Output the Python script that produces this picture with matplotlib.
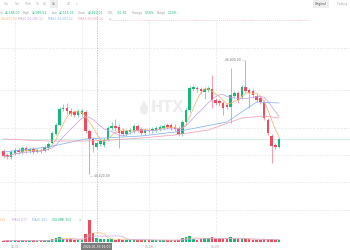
import matplotlib
matplotlib.use("Agg")
import matplotlib.pyplot as plt
from matplotlib.lines import Line2D
from matplotlib.patches import Polygon
import numpy as np
import pandas as pd

plt.rcParams['font.family'] = ['DejaVu Sans']

# ---------------- data ----------------
start_time = "2023-12-30 12:00"
opens = [41886, 41670, 41562, 41778, 41940, 41832, 42048, 41886, 41994, 41832,
         41940, 41886, 42048, 42318, 42804, 43290, 44154, 44208, 44046, 43992,
         43830, 43884, 43992, 42966, 42534, 42102, 42264, 42210, 42480, 43128,
         43236, 43182, 42966, 42804, 42912, 42966, 43236, 43074, 42858, 43020,
         42966, 43020, 43074, 43128, 43290, 43290, 43182, 43128, 42804, 43452,
         44100, 45234, 45288, 45234, 45072, 45180, 45234, 44640, 44586, 44478,
         44370, 44262, 44856, 45018, 44802, 45342, 45180, 45126, 44856, 44748,
         44532, 43560, 42696, 42210, 42102]
highs = [41994, 41778, 41940, 42048, 42048, 42156, 42156, 42102, 42102, 42048,
         42048, 42210, 42372, 42966, 43398, 44262, 44424, 44478, 44208, 44100,
         44154, 44154, 44100, 43074, 42642, 42426, 42534, 42588, 43236, 43452,
         43614, 43344, 43128, 43074, 43128, 43344, 43344, 43182, 43128, 43128,
         43182, 43236, 43290, 43344, 43398, 43398, 43344, 43236, 43560, 44208,
         45396, 45450, 45396, 45342, 45342, 45396, 45990, 44748, 44694, 44586,
         44478, 46368, 45126, 45126, 45450, 46800, 45288, 45234, 44964, 44856,
         44640, 43668, 42804, 42318, 42642]
lows = [41508, 41454, 41454, 41670, 41724, 41724, 41778, 41778, 41724, 41778,
        41778, 41832, 41940, 42264, 42750, 43236, 44046, 43884, 43776, 43722,
        43722, 43776, 42858, 40620, 41832, 41994, 42156, 42102, 42426, 43020,
        42966, 42048, 42696, 42696, 42804, 42858, 42912, 42750, 42750, 42858,
        42858, 42912, 42966, 43020, 43074, 43020, 42966, 42696, 42696, 43344,
        43992, 45126, 45072, 44964, 44694, 45072, 44208, 44370, 44316, 43830,
        44154, 43398, 44748, 44478, 44694, 45018, 44208, 44748, 44532, 44424,
        43560, 42750, 41238, 41994, 42048]
closes = [41616, 41562, 41832, 41940, 41832, 42048, 41886, 41994, 41832, 41940,
          41886, 42102, 42264, 42858, 43290, 44154, 44208, 44046, 43884, 43830,
          44046, 44046, 42966, 42534, 42210, 42318, 42426, 42480, 43128, 43236,
          43128, 42858, 42804, 42966, 43020, 43236, 43020, 42858, 43020, 42966,
          43074, 43128, 43182, 43236, 43182, 43128, 43074, 42804, 43452, 44100,
          45288, 45342, 45234, 45126, 45234, 45288, 44640, 44478, 44478, 44208,
          44262, 44910, 45018, 44640, 45342, 45126, 45018, 44910, 44640, 44532,
          43668, 42858, 42156, 42102, 42534]
volumes = [220, 260, 200, 240, 180, 260, 210, 190, 230, 200,
           250, 280, 320, 500, 600, 800, 400, 450, 400, 350,
           300, 320, 1250, 3300, 1400, 600, 400, 450, 500, 400,
           350, 450, 300, 300, 280, 350, 300, 320, 280, 260,
           300, 280, 250, 300, 260, 280, 300, 350, 600, 800,
           850, 400, 350, 500, 600, 550, 700, 400, 450, 500,
           400, 700, 500, 400, 450, 500, 400, 350, 300, 280,
           400, 450, 500, 300, 352]
ma30_idx = [0, 12, 22, 27, 37, 46, 60, 68, 74]
ma30_val = [41832, 42102, 42534, 42588, 42696, 42912, 43452, 44532, 44478]
ma60_idx = [0, 12, 22, 29, 37, 46, 55, 64, 70, 74]
ma60_val = [42534, 42426, 42426, 42480, 42588, 42750, 43020, 43668, 43776, 43668]
tick_labels = ["12-31", "01-03", "01-06", "01-09"]
crosshair_time = "2024-01-03 16:00"
high_label = "46,800.00"
low_label = "40,620.00"

info_row = [("Open", "42,588.00"), ("High", "42,983.62"), ("Low", "42,515.25"),
            ("Close", "42,820.01"), ("VOL", "351.81"), ("Change", "0.56%"),
            ("Range", "1.10%")]
ma_row = ["MA5 42,427.00", "MA10 44,296.12", "MA30 43,303.12", "MA60 43,260.14"]
vol_row = ["MA5 514", "MA10 877", "MA20 401", "VOLUME 352"]
periods = ["1m", "5m", "15m", "1h", "2h", "4h", "1D", "\u2228"]

# ---------------- style ----------------
W, H = 350, 250
GREEN = "#16b979"
RED = "#f04a5e"
C_MA5 = "#f5b66e"
C_MA10 = "#c7a2e8"
C_MA30 = "#86b4f0"
C_MA60 = "#f2a0b8"
GREY = "#9a9a9a"
GRID = "#e4e4e4"

fig = plt.figure(figsize=(3.5, 2.5), dpi=100)
fig.patch.set_facecolor("white")


def fy(y):
    return 1 - y / H


def fx(x):
    return x / W


def text(x, y, s, color, size=2.2, ha="left", **kw):
    fig.text(fx(x), fy(y), s, color=color, fontsize=size, ha=ha, va="center", **kw)


n = len(closes)
idx = np.arange(n)
dates = pd.date_range(start_time, periods=n, freq="4h")

# main price axes
x0 = -3.7 / 3.72
x1 = (W - 3.7) / 3.72
ax = fig.add_axes([0, fy(215), 1, (215 - 20) / H])
ax.set_xlim(x0, x1)
ax.set_ylim(50040 - 54 * 215, 50040 - 54 * 20)
ax.axis("off")

vax = fig.add_axes([0, fy(243), 1, 30 / H])
vax.set_xlim(x0, x1)
vax.set_ylim(-150, 4350)
for s in vax.spines.values():
    s.set_visible(False)
vax.set_yticks([])

# horizontal grid (figure level)
for gy in [48, 90, 128, 155, 182, 210]:
    fig.add_artist(Line2D([0, 1], [fy(gy), fy(gy)], color=GRID, lw=0.5,
                          ls=(0, (3, 2)), zorder=0))
fig.add_artist(Line2D([fx(110), fx(310)], [fy(20), fy(20)], color="#f5b8c4",
                      lw=0.5, ls=(0, (1.5, 1.5)), zorder=0))

# vertical grid at day ticks
day_str = dates.strftime("%m-%d %H:%M")
tick_idx = [int(np.where(day_str == lab + " 00:00")[0][0]) for lab in tick_labels]
for ti in tick_idx:
    ax.axvline(ti, color=GRID, lw=0.5, ls=(0, (3, 2)), zorder=0)
    vax.axvline(ti, color=GRID, lw=0.5, ls=(0, (3, 2)), zorder=0)

# last price line
ax.axhline(closes[-1], color="#bfe9d6", lw=0.5, zorder=1)

# watermark
text(151, 108, "HTX", "#ededed", size=10.5, weight="bold", zorder=0)
flame = Polygon([[fx(144), fy(101)], [fx(148), fy(107)], [fx(147.5), fy(113)],
                 [fx(144), fy(115)], [fx(140.5), fy(113)], [fx(140), fy(107)]],
                closed=True, transform=fig.transFigure, facecolor="#ededed",
                edgecolor="none", zorder=0)
fig.add_artist(flame)

# candles
o = np.array(opens, float)
c = np.array(closes, float)
hi = np.array(highs, float)
lo = np.array(lows, float)
up = c >= o
cols = np.where(up, GREEN, RED)
ax.vlines(idx, lo, hi, colors=cols, lw=0.5, alpha=0.75, zorder=3)
body_h = np.maximum(np.abs(c - o), 45)
ax.bar(idx, body_h, bottom=np.minimum(o, c), width=0.68, color=cols, zorder=4,
       linewidth=0)

# moving averages
cs = pd.Series(c)
ax.plot(idx, cs.rolling(5, min_periods=1).mean(), color=C_MA5, lw=0.55, zorder=5)
ax.plot(idx, cs.rolling(10, min_periods=1).mean(), color=C_MA10, lw=0.55, zorder=5)
ax.plot(ma30_idx, ma30_val, color=C_MA30, lw=0.55, zorder=5)
ax.plot(ma60_idx, ma60_val, color=C_MA60, lw=0.55, zorder=5)

# high / low markers
i_hi = int(np.argmax(hi))
i_lo = int(np.argmin(lo))
ax.annotate(high_label + " \u2014", (i_hi, hi[i_hi]), xytext=(-0.5, 0),
            textcoords="offset points", ha="right", va="center",
            fontsize=2.2, color="#777777")
ax.annotate("\u2014 " + low_label, (i_lo, lo[i_lo]), xytext=(0.5, -1),
            textcoords="offset points", ha="left", va="center",
            fontsize=2.2, color="#777777")

# volume
v = np.array(volumes, float)
vax.bar(idx, v, width=0.68, color=cols, linewidth=0, zorder=3)
vs = pd.Series(v)
vax.plot(idx, vs.rolling(5, min_periods=1).mean(), color=C_MA5, lw=0.45, zorder=4)
vax.plot(idx, vs.rolling(10, min_periods=1).mean(), color=C_MA10, lw=0.45, zorder=4)

# crosshair
ci = int(np.where(dates == pd.Timestamp(crosshair_time))[0][0])
# the day label under the crosshair box is hidden by it, as in the reference
shown = [lab if abs(ti - ci) > 5 else "" for lab, ti in zip(tick_labels, tick_idx)]
vax.set_xticks(tick_idx)
vax.set_xticklabels(shown)
vax.tick_params(axis="x", length=0, labelsize=2.2, labelcolor=GREY, pad=1.2)

cx = fig.transFigure.inverted().transform(ax.transData.transform((ci, 0)))[0]
fig.add_artist(Line2D([cx, cx], [fy(243), fy(8)], color="#b5b5b5", lw=0.5,
                      ls=(0, (2, 1.5)), zorder=6))
fig.text(cx, fy(246.8), crosshair_time, fontsize=2.2, color="white",
         ha="center", va="center", zorder=10,
         bbox=dict(boxstyle="square,pad=0.6", fc="#7d7d7d", ec="none"))

# toolbar
px = [6, 17, 28, 38, 45, 54, 69, 77]
for lab, x in zip(periods, px):
    if lab == "4h":
        fig.text(fx(x), fy(4), lab, fontsize=2.2, color="#666666", ha="center",
                 va="center", bbox=dict(boxstyle="square,pad=0.7", fc="#eeeeee", ec="none"))
    else:
        text(x, 4, lab, "#aaaaaa", ha="center")
fig.text(fx(321), fy(4), "Original", fontsize=2.2, color="#555555", ha="center",
         va="center", bbox=dict(boxstyle="square,pad=0.8", fc="#eeeeee", ec="none"))
text(336, 4, "Trading", "#aaaaaa")

# info row
lab_x = [-4.5, 23, 52, 78, 108, 132, 157]
val_x = [5, 31.5, 59, 87.5, 116.5, 145, 168]
for (lab, val), lx, vx in zip(info_row, lab_x, val_x):
    text(lx, 13, lab, GREY)
    text(vx, 13, val, GREEN)

# MA row
for s, x, col in zip(ma_row, [-6, 18, 48, 78], [C_MA5, C_MA10, C_MA30, C_MA60]):
    text(x, 18.5, s, col)
text(109, 18.5, "\u2299", "#bbbbbb")

# volume legend
for s, x, col in zip(vol_row, [-8, 12, 32, 52], [C_MA5, C_MA10, C_MA30, GREEN]):
    text(x, 220, s, col)
text(79, 220, "\u2299", "#bbbbbb")

fig.savefig("out.png", dpi=100, facecolor="white")
